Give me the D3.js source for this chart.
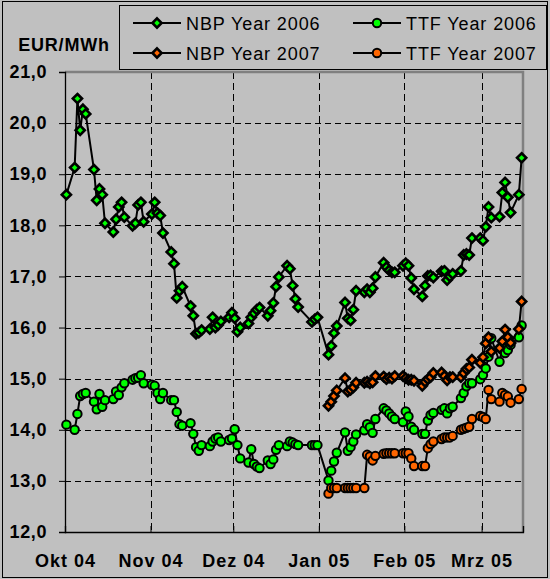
<!DOCTYPE html>
<html><head><meta charset="utf-8">
<script src="https://cdn.jsdelivr.net/npm/d3@7"></script>
<style>
html,body{margin:0;padding:0;background:#c0c0c0;}
svg{display:block;}
text{font-family:"Liberation Sans",Arial,sans-serif;}
</style></head>
<body>
<svg id="chart" width="550" height="579"></svg>
<script>
// ---------- DATA ----------
const dates = [
 "2004-10-01","2004-10-04","2004-10-05","2004-10-06","2004-10-07","2004-10-08","2004-10-11","2004-10-12","2004-10-13","2004-10-14","2004-10-15",
 "2004-10-18","2004-10-19","2004-10-20","2004-10-21","2004-10-22","2004-10-25","2004-10-26","2004-10-27","2004-10-28","2004-10-29",
 "2004-11-01","2004-11-02","2004-11-03","2004-11-04","2004-11-05","2004-11-08","2004-11-09","2004-11-10","2004-11-11","2004-11-12",
 "2004-11-15","2004-11-16","2004-11-17","2004-11-18","2004-11-19","2004-11-22","2004-11-23","2004-11-24","2004-11-25","2004-11-26",
 "2004-11-29","2004-11-30",
 "2004-12-01","2004-12-02","2004-12-03","2004-12-06","2004-12-07","2004-12-08","2004-12-09","2004-12-10","2004-12-13","2004-12-14",
 "2004-12-15","2004-12-16","2004-12-17","2004-12-20","2004-12-21","2004-12-22","2004-12-23","2004-12-24","2004-12-29","2004-12-30","2004-12-31",
 "2005-01-04","2005-01-05","2005-01-06","2005-01-07","2005-01-10","2005-01-11","2005-01-12","2005-01-13","2005-01-14","2005-01-17",
 "2005-01-18","2005-01-19","2005-01-20","2005-01-21","2005-01-24","2005-01-25","2005-01-26","2005-01-27","2005-01-28","2005-01-31",
 "2005-02-01","2005-02-02","2005-02-03","2005-02-04","2005-02-07","2005-02-08","2005-02-09","2005-02-10","2005-02-11","2005-02-14",
 "2005-02-15","2005-02-16","2005-02-17","2005-02-18","2005-02-21","2005-02-22","2005-02-23","2005-02-24","2005-02-25","2005-02-28",
 "2005-03-01","2005-03-02","2005-03-03","2005-03-04","2005-03-07","2005-03-08","2005-03-09","2005-03-10","2005-03-11","2005-03-14","2005-03-15"
];
const start2007 = "2005-01-04";

const nbp2006 = [
 18.60,19.13,20.48,19.86,20.27,20.18,19.09,18.49,18.71,18.60,18.04,17.87,18.12,18.36,18.45,18.16,17.99,18.04,18.40,18.45,18.07,
 18.22,18.45,18.24,18.19,17.85,17.48,17.25,16.58,16.72,16.80,16.42,16.23,15.88,15.90,15.95,15.97,16.20,16.00,16.05,16.12,16.20,16.29,
 16.18,15.92,16.00,16.08,16.20,16.28,16.35,16.39,16.23,16.33,16.48,16.80,16.99,17.21,17.15,16.82,16.56,16.40,16.11,16.16,16.20,
 15.47,15.64,15.89,16.03,16.49,16.18,16.14,16.35,16.72,16.69,16.75,16.69,16.77,16.99,17.27,17.18,17.12,17.08,17.08,17.21,
 17.26,17.21,16.97,16.75,16.61,16.82,17.01,17.02,16.98,17.10,17.11,16.93,17.00,17.05,17.11,17.42,17.44,17.42,17.75,17.75,
 17.70,17.97,18.36,18.15,18.17,18.64,18.84,18.55,18.25,18.60,19.32
];
const ttf2006 = [
 14.10,14.00,14.31,14.66,14.70,14.72,14.55,14.40,14.70,14.45,14.58,14.60,14.75,14.68,14.83,14.91,14.98,15.01,15.02,15.07,14.91,
 14.88,14.86,14.72,14.60,14.72,14.58,14.58,14.35,14.11,14.08,14.13,13.92,13.66,13.59,13.70,13.68,13.77,13.83,13.85,13.77,13.80,13.83,
 14.01,13.70,13.44,13.36,13.62,13.33,13.28,13.25,13.40,13.33,13.42,13.61,13.70,13.68,13.77,13.75,13.72,13.70,13.70,13.70,13.70,
 13.01,13.20,13.38,13.55,13.95,13.59,13.66,13.77,13.91,13.99,14.11,14.05,13.94,14.21,14.42,14.38,14.32,14.26,14.21,14.15,
 14.36,14.26,14.06,14.00,13.92,13.92,14.18,14.29,14.33,14.39,14.42,14.32,14.42,14.45,14.62,14.72,14.85,14.91,14.91,14.99,
 15.07,15.20,15.43,15.79,15.33,15.60,15.50,15.56,15.66,15.81,16.04
];
// 2007 contracts: values from 4 Jan 2005 onwards
const nbp2007 = [
 14.47,14.55,14.66,14.77,15.01,14.75,14.78,14.83,14.92,14.92,14.94,14.91,14.93,15.05,15.04,14.99,15.02,15.00,15.05,15.05,
 15.01,14.98,14.98,14.96,14.86,14.94,14.99,15.03,15.11,15.12,15.05,14.97,15.03,15.03,15.03,15.11,15.19,15.22,15.37,15.31,
 15.42,15.69,15.81,15.53,15.60,15.73,15.96,15.81,15.70,15.97,16.51
];
const ttf2007 = [
 12.75,12.86,12.86,12.86,12.86,12.86,12.86,12.86,12.86,12.86,13.51,13.48,13.40,13.49,13.53,13.54,13.54,13.54,13.54,13.54,
 13.54,13.54,13.44,13.29,13.29,13.29,13.64,13.72,13.77,13.82,13.85,13.85,13.85,13.88,14.00,14.02,14.04,14.06,14.21,14.27,
 14.25,14.21,14.78,14.60,14.55,14.72,14.68,14.65,14.53,14.60,14.80
];
const seriesNames = ["NBP Year 2006","TTF Year 2006","NBP Year 2007","TTF Year 2007"];
const seriesColors = ["#00ff00","#00ff00","#ff6600","#ff6600"];
const seriesMarkers = ["diamond","circle","diamond","circle"];
const xTickLabels = ["Okt 04","Nov 04","Dez 04","Jan 05","Feb 05","Mrz 05"];
const yTicks = [12,13,14,15,16,17,18,19,20,21];
const yTitle = "EUR/MWh";

// ---------- LAYOUT ----------
const W = 550, H = 579;
const pLeft = 65, pRight = 523, pTop = 72, pBottom = 532;
const parse = d3.utcParse("%Y-%m-%d");
const svg = d3.select("#chart");

svg.append("rect").attr("x",0).attr("y",0).attr("width",W).attr("height",H).attr("fill","#c0c0c0");
svg.append("rect").attr("x",2.5).attr("y",1.5).attr("width",545).attr("height",576)
  .attr("fill","none").attr("stroke","#000").attr("stroke-width",1);

const x = d3.scaleUtc()
  .domain([parse("2004-10-01"), parse("2005-03-16")])
  .range([pLeft, pRight]);
const y = d3.scaleLinear().domain([12,21]).range([pBottom, pTop]);
const halfDay = 12*3600*1000;
const xp = d => x(new Date(parse(d).getTime() + halfDay));

const monthTicks = x.ticks(d3.utcMonth.every(1));

// gridlines
const grid = svg.append("g");
grid.selectAll("line.h").data(yTicks.filter(v => v>12 && v<21)).join("line")
  .attr("x1",pLeft).attr("x2",pRight)
  .attr("y1",d=>Math.round(y(d))+0.5).attr("y2",d=>Math.round(y(d))+0.5)
  .attr("stroke","#000").attr("stroke-width",1).attr("stroke-dasharray","6,4");
grid.selectAll("line.v").data(monthTicks.slice(1)).join("line")
  .attr("x1",d=>Math.round(x(d))+0.5).attr("x2",d=>Math.round(x(d))+0.5)
  .attr("y1",pTop).attr("y2",pBottom)
  .attr("stroke","#000").attr("stroke-width",1).attr("stroke-dasharray","7,4");

// plot-area border (top, right)
svg.append("path")
  .attr("d",`M${pLeft},${pTop} H${pRight} V${pBottom}`)
  .attr("fill","none").attr("stroke","#808080").attr("stroke-width",2.5);

// axes
const yAxis = d3.axisLeft(y).tickValues(yTicks).tickSize(6).tickPadding(12)
  .tickFormat(d => d3.format(".1f")(d).replace(".",","));
const gy = svg.append("g").attr("transform",`translate(${pLeft},0)`).call(yAxis);
gy.select(".domain").attr("stroke","#000").attr("stroke-width",1.3);
gy.selectAll(".tick line").attr("stroke","#000");
gy.selectAll("text").attr("font-size",18).attr("font-weight","bold")
  .attr("fill","#000").attr("letter-spacing","0.6px")
  .style("font-family","'Liberation Sans',Arial,sans-serif");

const xAxis = d3.axisBottom(x).tickValues(monthTicks).tickSize(-6).tickPadding(22)
  .tickFormat((d,i) => xTickLabels[i]);
const gx = svg.append("g").attr("transform",`translate(0,${pBottom})`).call(xAxis);
gx.select(".domain").attr("stroke","#000").attr("stroke-width",1.3);
gx.selectAll(".tick line").attr("stroke","#000");
gx.selectAll("text").attr("font-size",18).attr("font-weight","bold")
  .attr("fill","#000").attr("letter-spacing","1px")
  .style("font-family","'Liberation Sans',Arial,sans-serif");

svg.append("text").attr("x",64).attr("y",51).attr("text-anchor","middle")
  .attr("font-size",18).attr("font-weight","bold").attr("letter-spacing","0.8px").text(yTitle);

// series
const i2007 = dates.indexOf(start2007);
const seriesData = [
  dates.map((d,i)=>({d, v:nbp2006[i]})),
  dates.map((d,i)=>({d, v:ttf2006[i]})),
  dates.slice(i2007).map((d,i)=>({d, v:nbp2007[i]})),
  dates.slice(i2007).map((d,i)=>({d, v:ttf2007[i]}))
];
const line = d3.line().x(p=>xp(p.d)).y(p=>y(p.v));
const diamond = "M0,-4.6L4.6,0L0,4.6L-4.6,0Z";

seriesData.forEach((data,k) => {
  const g = svg.append("g");
  g.append("path").datum(data).attr("d",line)
    .attr("fill","none").attr("stroke","#000").attr("stroke-width",2);
  if (seriesMarkers[k]==="diamond") {
    g.selectAll("path.m").data(data).join("path").attr("class","m")
      .attr("transform",p=>`translate(${xp(p.d)},${y(p.v)})`)
      .attr("d",diamond).attr("fill",seriesColors[k])
      .attr("stroke","#000").attr("stroke-width",2.6);
  } else {
    g.selectAll("circle").data(data).join("circle")
      .attr("cx",p=>xp(p.d)).attr("cy",p=>y(p.v)).attr("r",4.2)
      .attr("fill",seriesColors[k]).attr("stroke","#000").attr("stroke-width",2);
  }
});

// legend
const lg = svg.append("g");
lg.append("rect").attr("x",119.5).attr("y",5.5).attr("width",427).attr("height",64)
  .attr("fill","#c0c0c0").attr("stroke","#000").attr("stroke-width",1);
const legPos = [[133,23],[353,23],[133,53],[353,53]];
seriesNames.forEach((name,k) => {
  const [lx,ly] = legPos[k];
  lg.append("line").attr("x1",lx).attr("x2",lx+48).attr("y1",ly).attr("y2",ly)
    .attr("stroke","#000").attr("stroke-width",2);
  if (seriesMarkers[k]==="diamond") {
    lg.append("path").attr("d",diamond).attr("transform",`translate(${lx+24},${ly})`)
      .attr("fill",seriesColors[k]).attr("stroke","#000").attr("stroke-width",2.6);
  } else {
    lg.append("circle").attr("cx",lx+24).attr("cy",ly).attr("r",4.2)
      .attr("fill",seriesColors[k]).attr("stroke","#000").attr("stroke-width",2);
  }
  lg.append("text").attr("x",lx+53).attr("y",ly+6.5)
    .attr("font-size",18).attr("letter-spacing","0.9px").attr("fill","#000").text(name);
});
</script>
</body></html>
